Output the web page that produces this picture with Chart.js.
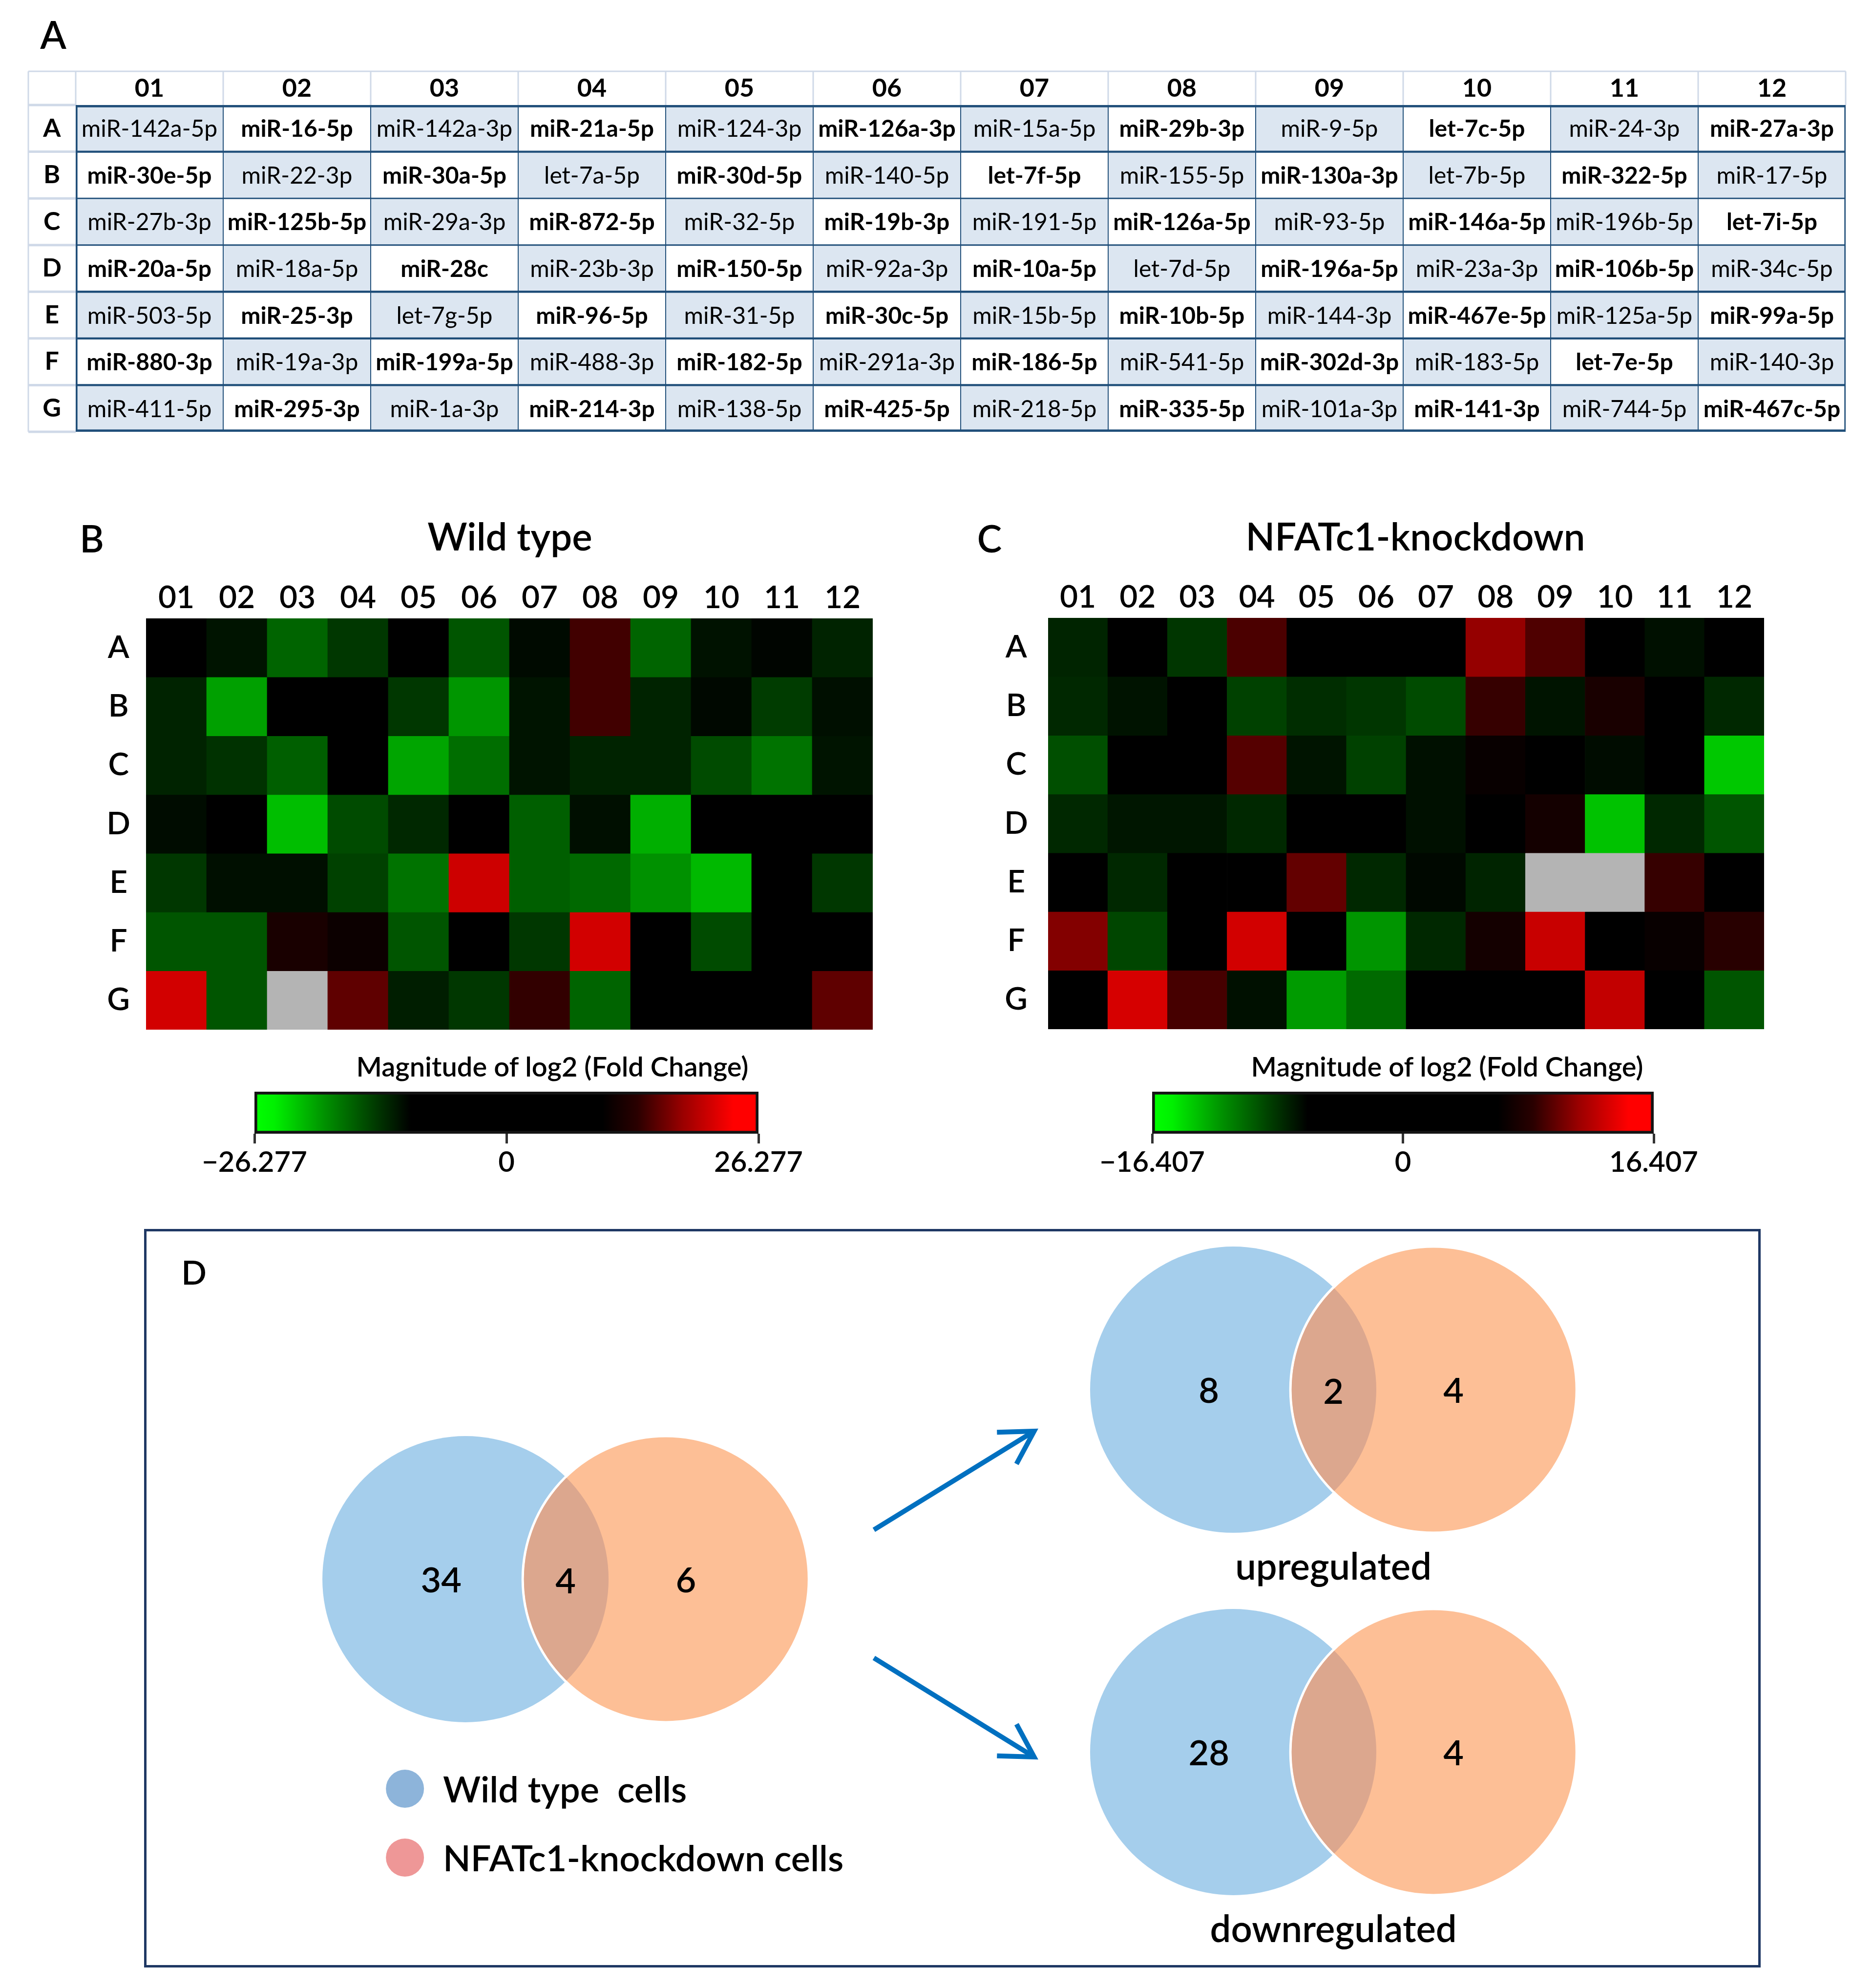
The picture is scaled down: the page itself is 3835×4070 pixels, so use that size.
<!DOCTYPE html>
<html lang="en">
<head>
<meta charset="utf-8">
<title>miRNA array: heatmaps and Venn diagrams</title>
<script src="https://cdn.jsdelivr.net/npm/chart.js@4.4.1/dist/chart.umd.min.js"></script>
<style>
  html, body { margin: 0; padding: 0; background: #fff; }
  body { position: relative; width: 3835px; height: 4070px; overflow: hidden;
         font-family: Lato, 'Open Sans', sans-serif; color: #000; }
  canvas { position: absolute; }
  .txt { position: absolute; transform: translate(-50%, -50%); white-space: nowrap; line-height: 1; font-weight: 600; }
  #boxD { position: absolute; left: 295px; top: 2516px; width: 3310px; height: 1512px;
          border: 5px solid #1F3864; box-sizing: border-box; }
</style>
</head>
<body>
<div class="txt" style="left:109px;top:70px;font-size:78px">A</div>
<div class="txt" style="left:188px;top:1102px;font-size:76px">B</div>
<div class="txt" style="left:1044px;top:1097px;font-size:78px">Wild type</div>
<div class="txt" style="left:2026px;top:1102px;font-size:76px">C</div>
<div class="txt" style="left:2898px;top:1097px;font-size:78px">NFATc1-knockdown</div>
<div class="txt" style="left:1131px;top:2183px;font-size:56px">Magnitude of log2 (Fold Change)</div>
<div class="txt" style="left:2963px;top:2183px;font-size:56px">Magnitude of log2 (Fold Change)</div>
<div id="boxD"></div>
<div class="txt" style="left:397px;top:2604px;font-size:68px">D</div>

<canvas id="tableChart" width="3740" height="754" style="left:50px;top:138px"></canvas>
<canvas id="wtChart" width="1617" height="948" style="left:180px;top:1170px"></canvas>
<canvas id="kdChart" width="1596" height="947" style="left:2026px;top:1170px"></canvas>
<canvas id="wtScale" width="1292" height="200" style="left:391px;top:2225px"></canvas>
<canvas id="kdScale" width="1287" height="200" style="left:2229px;top:2225px"></canvas>
<canvas id="vennChart" width="3310" height="1514" style="left:295px;top:2516px"></canvas>

<script>
// ── Data ───────────────────────────────────────────────
const COLS = ['01','02','03','04','05','06','07','08','09','10','11','12'];
const ROWS = ['A','B','C','D','E','F','G'];

const MIRNA = [
  ['miR-142a-5p','miR-16-5p','miR-142a-3p','miR-21a-5p','miR-124-3p','miR-126a-3p','miR-15a-5p','miR-29b-3p','miR-9-5p','let-7c-5p','miR-24-3p','miR-27a-3p'],
  ['miR-30e-5p','miR-22-3p','miR-30a-5p','let-7a-5p','miR-30d-5p','miR-140-5p','let-7f-5p','miR-155-5p','miR-130a-3p','let-7b-5p','miR-322-5p','miR-17-5p'],
  ['miR-27b-3p','miR-125b-5p','miR-29a-3p','miR-872-5p','miR-32-5p','miR-19b-3p','miR-191-5p','miR-126a-5p','miR-93-5p','miR-146a-5p','miR-196b-5p','let-7i-5p'],
  ['miR-20a-5p','miR-18a-5p','miR-28c','miR-23b-3p','miR-150-5p','miR-92a-3p','miR-10a-5p','let-7d-5p','miR-196a-5p','miR-23a-3p','miR-106b-5p','miR-34c-5p'],
  ['miR-503-5p','miR-25-3p','let-7g-5p','miR-96-5p','miR-31-5p','miR-30c-5p','miR-15b-5p','miR-10b-5p','miR-144-3p','miR-467e-5p','miR-125a-5p','miR-99a-5p'],
  ['miR-880-3p','miR-19a-3p','miR-199a-5p','miR-488-3p','miR-182-5p','miR-291a-3p','miR-186-5p','miR-541-5p','miR-302d-3p','miR-183-5p','let-7e-5p','miR-140-3p'],
  ['miR-411-5p','miR-295-3p','miR-1a-3p','miR-214-3p','miR-138-5p','miR-425-5p','miR-218-5p','miR-335-5p','miR-101a-3p','miR-141-3p','miR-744-5p','miR-467c-5p']
];

// log2 fold change per well, null = not detected (grey)
const WT_FC = [
  [0, -2.1, -10.3, -5.7, 0, -8.8, -1.0, 6.7, -10.3, -1.9, -0.5, -3.6],
  [-3.6, -16.5, 0, 0, -5.7, -15.5, -2.1, 6.7, -3.6, -0.8, -6.2, -1.5],
  [-3.6, -5.2, -9.8, 0, -17.0, -11.3, -2.1, -3.6, -3.6, -7.7, -11.9, -2.1],
  [-1.2, 0, -19.6, -7.7, -4.1, 0, -9.8, -1.5, -18.0, 0, 0, 0],
  [-5.7, -1.5, -1.5, -6.7, -11.9, 21.1, -9.8, -10.8, -14.9, -19.1, 0, -5.7],
  [-8.8, -8.8, 2.6, 1.2, -8.8, 0, -5.7, 21.6, 0, -7.7, 0, 0],
  [21.6, -8.8, null, 9.8, -3.1, -5.7, 5.2, -10.3, 0, 0, 0, 9.8]
];
const KD_FC = [
  [-2.3, 0, -3.5, 4.8, 0, 0, 0, 9.6, 5.1, 0, -1.0, 0],
  [-2.6, -1.2, 0, -4.2, -2.9, -3.5, -4.8, 3.5, -1.3, 1.6, 0, -2.6],
  [-5.1, 0, 0, 5.5, -1.3, -4.2, -1.0, 0.5, 0, -0.8, 0, -12.9],
  [-2.6, -1.4, -1.4, -2.6, 0, 0, -1.0, 0, 1.3, -12.5, -2.6, -5.5],
  [0, -2.6, 0, 0, 6.4, -2.6, -0.5, -2.3, null, null, 3.5, 0],
  [8.4, -4.5, 0, 13.5, 0, -9.6, -2.6, 1.3, 12.9, 0, 0.5, 2.6],
  [0, 13.8, 4.5, -1.0, -10.0, -6.8, 0, 0, 0, 12.5, 0, -5.5]
];
const WT_MAX = 26.277;
const KD_MAX = 16.407;

const VENN_ALL = [34, 4, 6];       // WT only, both, KD only
const VENN_UP = [8, 2, 4];
const VENN_DOWN = [28, null, 4];
const VENN_CAPTIONS = [null, 'upregulated', 'downregulated'];
const LEGEND_LABELS = ['Wild type  cells', 'NFATc1-knockdown cells'];

// ── Style ──────────────────────────────────────────────
Chart.defaults.font.family = 'Lato';
Chart.defaults.font.weight = '600';
Chart.defaults.color = '#000';

const $ = id => document.getElementById(id);
const CELL_BLUE = '#DCE6F1';
const LINE_NAVY = '#1F4E79';
const LINE_LIGHT = '#CFD9E8';
const HLINES = [5, 5, 3.5, 3.5, 5, 5, 5, 5];   // widths of row boundaries

const BLUE = '#A5CEEC', ORANGE = '#FDBF96', OVERLAP = '#DCA78E';
const LEGEND_COLORS = ['#8DB4DA', '#EE9797'];

const CB_STOPS = [[0,'#00ff00'],[0.04,'#00f000'],[0.14,'#009000'],[0.24,'#003a00'],[0.31,'#000000'],
                  [0.69,'#000000'],[0.76,'#2a0000'],[0.85,'#9a0000'],[0.95,'#ff0000'],[1,'#ff0000']];

function heatColor(v, max) {
  if (v === null) return '#B4B4B4';
  const c = Math.round(255 * Math.min(1, Math.abs(v) / max));
  return v < 0 ? `rgb(0,${c},0)` : `rgb(${c},0,0)`;
}

// shared well-plate axes: columns on top, rows on the left
function plateScales(o) {
  return {
    x: {
      type: 'category', position: 'top', offset: true,
      grid: { display: false, drawTicks: false }, border: { display: false },
      ticks: { font: o.colFont, color: '#000', padding: o.colPad, maxRotation: 0, autoSkip: false },
      afterFit: s => { s.height = o.headH; s.paddingLeft = 0; s.paddingRight = 0; }
    },
    y: {
      type: 'linear', min: 0, max: ROWS.length, reverse: true,
      grid: { display: false, drawTicks: false }, border: { display: false },
      afterBuildTicks: s => { s.ticks = ROWS.map((_, i) => ({ value: i + 0.5 })); },
      ticks: { font: o.rowFont, color: '#000', padding: o.rowPad, crossAlign: 'center',
               autoSkip: false, callback: (v, i) => ROWS[i] },
      afterFit: s => { s.width = o.labW; s.paddingTop = 0; s.paddingBottom = 0; }
    }
  };
}

const baseOpts = {
  responsive: false,
  animation: false,
  events: [],
  plugins: { legend: { display: false }, tooltip: { enabled: false } }
};

// ── Panel A: plate layout table ───────────────────────
const tableFrame = {
  id: 'tableFrame',
  beforeDatasetsDraw(chart) {
    const { ctx, chartArea: a, scales: { x, y } } = chart;
    const half = (x.getPixelForValue(1) - x.getPixelForValue(0)) / 2;
    ctx.save();
    ctx.strokeStyle = LINE_LIGHT;
    ctx.lineWidth = 3;
    ctx.beginPath();
    ctx.moveTo(y.left, x.top); ctx.lineTo(a.right, x.top);
    ctx.moveTo(y.left, x.top); ctx.lineTo(y.left, a.bottom);
    for (let i = 0; i <= COLS.length; i++) {
      const px = i < COLS.length ? x.getPixelForValue(i) - half : a.right;
      ctx.moveTo(px, x.top); ctx.lineTo(px, a.top);
    }
    ctx.stroke();
    ctx.lineWidth = 5;
    ctx.beginPath();
    for (let r = 0; r <= ROWS.length; r++) {
      const py = y.getPixelForValue(r);
      ctx.moveTo(y.left, py); ctx.lineTo(a.left, py);
    }
    ctx.stroke();
    ctx.restore();
  }
};

const cellText = {
  id: 'cellText',
  afterDatasetsDraw(chart) {
    const { ctx } = chart;
    ctx.save();
    ctx.textAlign = 'center';
    ctx.textBaseline = 'middle';
    ctx.fillStyle = '#000';
    chart.data.datasets.forEach((ds, ri) => {
      chart.getDatasetMeta(ri).data.forEach((bar, ci) => {
        const bold = (ri + ci) % 2 === 1;
        ctx.font = `${bold ? 'bold' : 'normal'} 48px Lato`;
        ctx.fillText(MIRNA[ri][ci], bar.x, (bar.y + bar.base) / 2 + 2);
      });
    });
    ctx.restore();
  }
};

new Chart($('tableChart'), {
  type: 'bar',
  data: {
    labels: COLS,
    datasets: ROWS.map((row, ri) => ({
      label: row,
      data: COLS.map(() => [ri, ri + 1]),
      backgroundColor: COLS.map((c, ci) => (ri + ci) % 2 === 0 ? CELL_BLUE : '#FFFFFF'),
      borderColor: LINE_NAVY,
      borderWidth: ctx => ({
        top: ri === 0 ? HLINES[0] : HLINES[ri] / 2,
        bottom: ri === ROWS.length - 1 ? HLINES[ri + 1] : HLINES[ri + 1] / 2,
        left: ctx.dataIndex === 0 ? 4 : 1.3,
        right: ctx.dataIndex === COLS.length - 1 ? 3 : 1.3
      }),
      borderSkipped: false,
      grouped: false, barPercentage: 1, categoryPercentage: 1
    }))
  },
  options: {
    ...baseOpts,
    layout: { padding: { left: 8, top: 8, right: 11, bottom: 8 } },
    scales: plateScales({
      colFont: { size: 52, weight: 'bold' }, rowFont: { size: 52, weight: 'bold' },
      headH: 69, labW: 97, colPad: 3, rowPad: 29
    })
  },
  plugins: [tableFrame, cellText]
});

// ── Panels B, C: heatmaps ─────────────────────────────
function heatmap(id, values, max, labW, rowPad, headH) {
  return new Chart($(id), {
    type: 'bar',
    data: {
      labels: COLS,
      datasets: ROWS.map((row, ri) => ({
        label: row,
        data: COLS.map(() => [ri, ri + 1]),
        backgroundColor: values[ri].map(v => heatColor(v, max)),
        borderWidth: 0,
        grouped: false, barPercentage: 1, categoryPercentage: 1
      }))
    },
    options: {
      ...baseOpts,
      layout: { padding: { left: 0, top: 0, right: 10, bottom: 10 } },
      scales: plateScales({
        colFont: { size: 64 }, rowFont: { size: 64 },
        headH, labW, colPad: 3, rowPad
      })
    }
  });
}
heatmap('wtChart', WT_FC, WT_MAX, 119, 32, 96);
heatmap('kdChart', KD_FC, KD_MAX, 120, 41, 95);

// ── Colour scales ─────────────────────────────────────
function cbFill(context) {
  const a = context.chart.chartArea;
  if (!a) return '#000';
  const g = context.chart.ctx.createLinearGradient(a.left, 0, a.right, 0);
  CB_STOPS.forEach(([o, c]) => g.addColorStop(o, c));
  return g;
}

function colorScale(id, max) {
  return new Chart($(id), {
    type: 'bar',
    data: {
      labels: ['scale'],
      datasets: [{
        data: [[-max, max]],
        backgroundColor: cbFill,
        borderColor: '#141414', borderWidth: 6, borderSkipped: false,
        barPercentage: 1, categoryPercentage: 1
      }]
    },
    options: {
      ...baseOpts,
      indexAxis: 'y',
      layout: { padding: { left: 130, right: 130, top: 10, bottom: 10 } },
      scales: {
        y: { display: false },
        x: {
          type: 'linear', min: -max, max: max, position: 'bottom',
          border: { display: false },
          grid: { drawOnChartArea: false, drawTicks: true, tickLength: 20, color: '#333', lineWidth: 5 },
          afterBuildTicks: s => { s.ticks = [-max, 0, max].map(v => ({ value: v })); },
          ticks: {
            font: { size: 58 }, color: '#000', padding: 4, maxRotation: 0, autoSkip: false,
            callback: v => v === 0 ? '0' : (v < 0 ? '\u2212' : '') + Math.abs(v).toFixed(3)
          },
          afterFit: s => { s.height = 94; }
        }
      }
    }
  });
}
colorScale('wtScale', WT_MAX);
colorScale('kdScale', KD_MAX);

// ── Panel D: Venn diagrams ────────────────────────────
// panel units: 1 unit = circle radius
const PANEL_W = 11.297, PANEL_H = 5.167;
const VENN_GAP = 1.40;
const VENN_POS = [{ cx: 2.246, cy: 2.447 }, { cx: 7.611, cy: 1.123 }, { cx: 7.611, cy: 3.655 }];
const VENN_COUNTS = [VENN_ALL, VENN_UP, VENN_DOWN];
const ARROWS = [
  [{ x: 5.100, y: 2.102 }, { x: 6.220, y: 1.413 }],
  [{ x: 5.100, y: 2.997 }, { x: 6.220, y: 3.689 }]
];
const LEGEND_POS = { x: 1.823, y: [3.911, 4.392], textX: 2.089, r: 0.133 };

const vennPlugin = {
  id: 'venn',
  beforeDatasetsDraw(chart) {
    const { ctx, scales: { x, y } } = chart;
    const u = x.getPixelForValue(1) - x.getPixelForValue(0);
    ctx.save();
    VENN_POS.forEach((p, i) => {
      const bx = x.getPixelForValue(p.cx), by = y.getPixelForValue(p.cy);
      const ox = x.getPixelForValue(p.cx + VENN_GAP);
      const r = u;
      ctx.beginPath(); ctx.arc(bx, by, r, 0, Math.PI * 2);
      ctx.fillStyle = BLUE; ctx.fill();
      ctx.beginPath(); ctx.arc(ox, by, r, 0, Math.PI * 2);
      ctx.fillStyle = ORANGE; ctx.fill();
      ctx.lineWidth = 5; ctx.strokeStyle = '#fff'; ctx.stroke();
      ctx.save();
      ctx.beginPath(); ctx.arc(bx, by, r, 0, Math.PI * 2); ctx.clip();
      ctx.beginPath(); ctx.arc(ox, by, r - 2.5, 0, Math.PI * 2);
      ctx.fillStyle = OVERLAP; ctx.fill();
      ctx.restore();

      const [only1, both, only2] = VENN_COUNTS[i];
      ctx.fillStyle = '#000';
      ctx.textAlign = 'center';
      ctx.textBaseline = 'middle';
      ctx.font = '600 72px Lato';
      ctx.fillText(String(only1), bx - 0.17 * u, by + 4);
      if (both !== null) ctx.fillText(String(both), (bx + ox) / 2, by + 6);
      ctx.fillText(String(only2), ox + 0.14 * u, by + 4);
      if (VENN_CAPTIONS[i]) {
        ctx.font = '600 76px Lato';
        ctx.fillText(VENN_CAPTIONS[i], (bx + ox) / 2, by + 1.245 * u);
      }
    });

    LEGEND_LABELS.forEach((lab, i) => {
      const py = y.getPixelForValue(LEGEND_POS.y[i]);
      ctx.beginPath();
      ctx.arc(x.getPixelForValue(LEGEND_POS.x), py, LEGEND_POS.r * u, 0, Math.PI * 2);
      ctx.fillStyle = LEGEND_COLORS[i]; ctx.fill();
      ctx.fillStyle = '#000';
      ctx.font = '600 74px Lato';
      ctx.textAlign = 'left';
      ctx.textBaseline = 'middle';
      ctx.fillText(lab, x.getPixelForValue(LEGEND_POS.textX), py + 4);
    });
    ctx.restore();
  },
  afterDatasetsDraw(chart) {
    const { ctx } = chart;
    const u = chart.scales.x.getPixelForValue(1) - chart.scales.x.getPixelForValue(0);
    const arm = 0.26 * u, spread = Math.PI / 6;
    ctx.save();
    ctx.strokeStyle = '#0070C0';
    ctx.lineWidth = 10;
    ctx.lineJoin = 'miter';
    chart.data.datasets.forEach((ds, di) => {
      const pts = chart.getDatasetMeta(di).data;
      const a = pts[pts.length - 2], b = pts[pts.length - 1];
      const ang = Math.atan2(b.y - a.y, b.x - a.x) + Math.PI;
      ctx.beginPath();
      ctx.moveTo(b.x + arm * Math.cos(ang - spread), b.y + arm * Math.sin(ang - spread));
      ctx.lineTo(b.x, b.y);
      ctx.lineTo(b.x + arm * Math.cos(ang + spread), b.y + arm * Math.sin(ang + spread));
      ctx.stroke();
    });
    ctx.restore();
  }
};

new Chart($('vennChart'), {
  type: 'scatter',
  data: {
    datasets: ARROWS.map(pts => ({
      data: pts, showLine: true, borderColor: '#0070C0', borderWidth: 10,
      pointRadius: 0, fill: false
    }))
  },
  options: {
    ...baseOpts,
    layout: { padding: 0 },
    scales: {
      x: { type: 'linear', min: 0, max: PANEL_W, display: false },
      y: { type: 'linear', min: 0, max: PANEL_H, reverse: true, display: false }
    }
  },
  plugins: [vennPlugin]
});
</script>
</body>
</html>
